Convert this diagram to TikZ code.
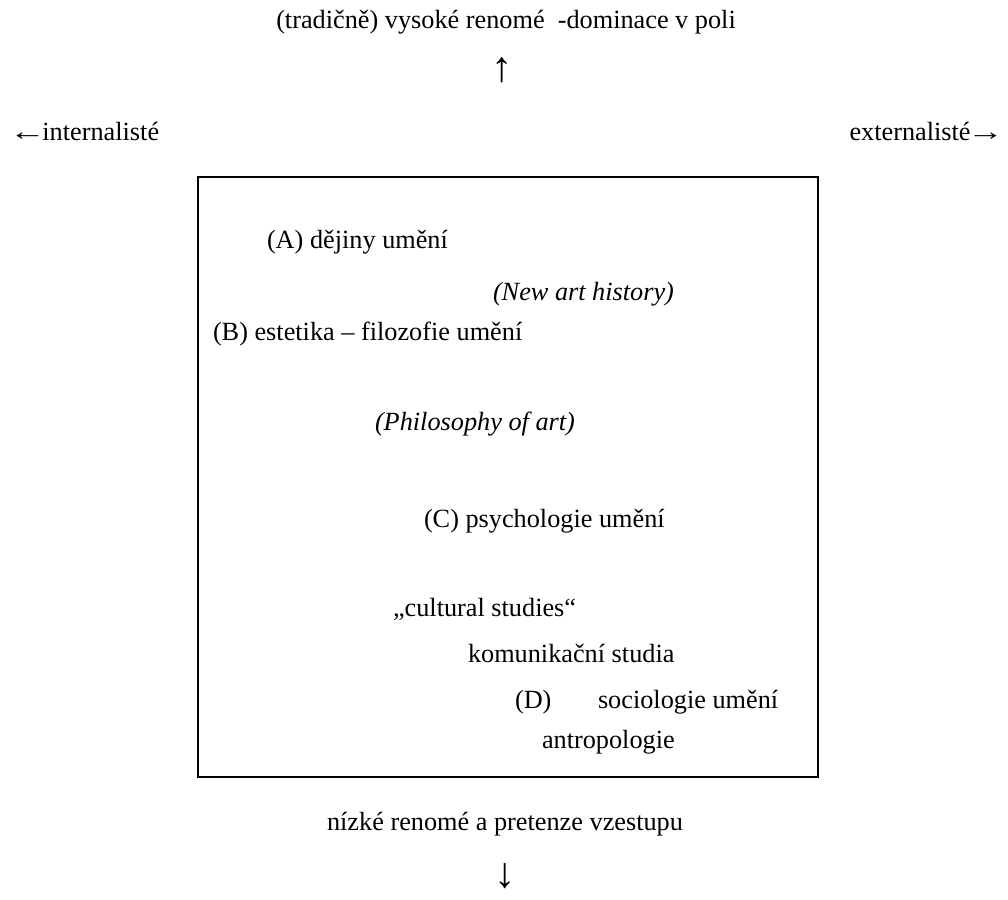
\documentclass[tikz,border=0pt]{standalone}
\usepackage{graphicx}
\usepackage{fontspec}
\setmainfont{Liberation Serif}
\newcommand{\harr}[1]{\scalebox{1.4}[1]{#1}}
\begin{document}
\begin{tikzpicture}[x=0.75pt,y=-0.75pt,
  lbl/.style={inner sep=0pt,outer sep=0pt,font=\fontsize{19.7}{23}\selectfont},
  lw/.style={lbl,anchor=base west},
  lc/.style={lbl,anchor=base},
  bigarrow/.style={inner sep=0pt,outer sep=0pt,anchor=center,font=\fontsize{32}{34}\selectfont},
  frame/.style={draw=black,line width=1.6pt}]
\useasboundingbox (0,0) rectangle (1008,900);
\node[lc] (top) at (506,28) {(tradičně) vysoké renomé \ -dominace v poli};
\node[bigarrow] (up) at (502,70) {↑};
\node[lw] (int) at (9,140) {\harr{←}\kern-2.5pt internalisté};
\node[lbl,anchor=base east] (ext) at (1004,140) {externalisté\kern-2.5pt\harr{→}};
\draw[frame] (198,177) rectangle (818,777);
\node[lw] (A) at (267,248) {(A) dějiny umění};
\node[lw] (nah) at (493,300) {\itshape (New art history)};
\node[lw] (B) at (213,340) {(B) estetika – filozofie umění};
\node[lw] (poa) at (375,430) {\itshape (Philosophy of art)};
\node[lw] (C) at (424,527) {(C) psychologie umění};
\node[lw] (cs) at (393,616) {„cultural studies“};
\node[lw] (ks) at (468,662) {komunikační studia};
\node[lw] (D) at (515,708) {(D)};
\node[lw] (su) at (598,708) {sociologie umění};
\node[lw] (an) at (542,748) {antropologie};
\node[lc] (low) at (505,830) {nízké renomé a pretenze vzestupu};
\node[bigarrow] (down) at (505,876) {↓};
\end{tikzpicture}
\end{document}
